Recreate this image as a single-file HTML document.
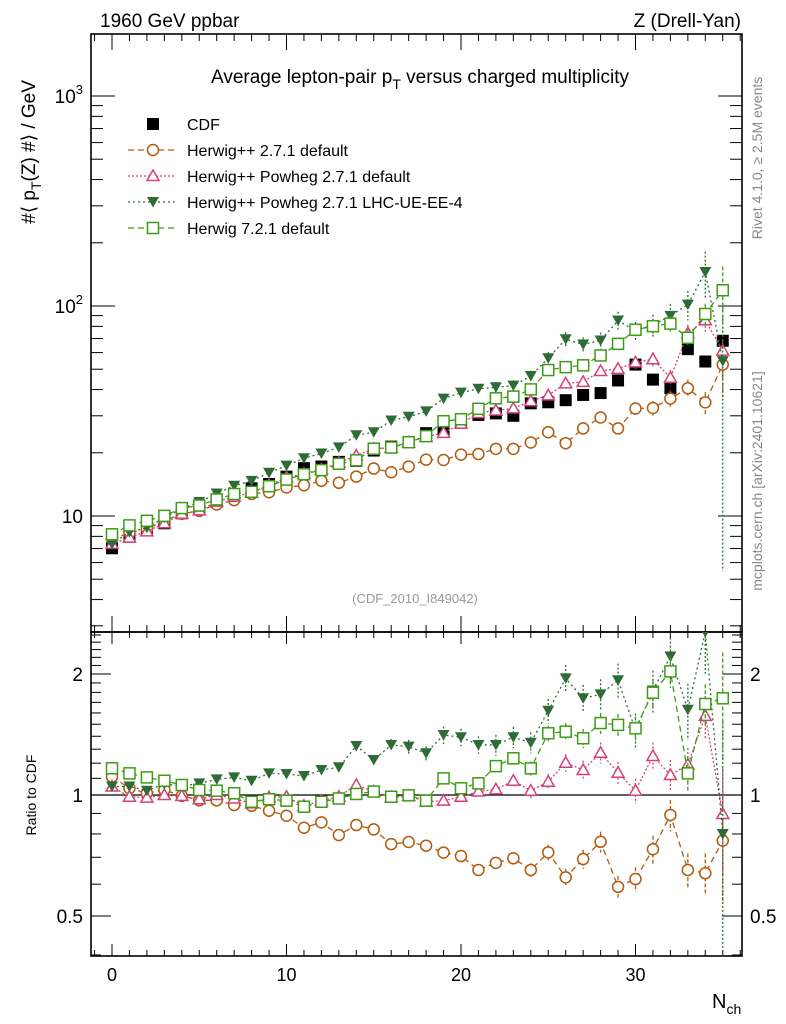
<!DOCTYPE html>
<html><head><meta charset="utf-8"><style>
html,body{margin:0;background:#fff;overflow:hidden;width:786px;height:1024px;}
svg{display:block;font-family:"Liberation Sans",sans-serif;}
</style></head><body>
<svg id="c" width="786" height="1024" viewBox="0 0 786 1024" xmlns="http://www.w3.org/2000/svg">
<rect width="786" height="1024" fill="#fff"/>
<text x="100" y="27" font-size="19">1960 GeV ppbar</text>
<text x="741" y="27" font-size="19" text-anchor="end">Z (Drell-Yan)</text>
<text x="420" y="83" font-size="19" text-anchor="middle">Average lepton-pair p<tspan font-size="14" dy="6">T</tspan><tspan dy="-6"> versus charged multiplicity</tspan></text>
<text x="415" y="603" font-size="13" fill="#999" text-anchor="middle">(CDF_2010_I849042)</text>
<text transform="translate(35,152) rotate(-90)" font-size="19" text-anchor="middle">#⟨ p<tspan font-size="14" dy="6">T</tspan><tspan dy="-6">(Z) #⟩ / GeV</tspan></text>
<text transform="translate(36,795) rotate(-90)" font-size="14" text-anchor="middle">Ratio to CDF</text>
<text transform="translate(762,158) rotate(-90)" font-size="14" fill="#888" text-anchor="middle">Rivet 4.1.0, ≥ 2.5M events</text>
<text transform="translate(762,481) rotate(-90)" font-size="14" fill="#888" text-anchor="middle">mcplots.cern.ch [arXiv:2401.10621]</text>
<text x="712" y="1008" font-size="20">N<tspan font-size="14" dy="6">ch</tspan></text>
<g id="plots"></g>
</svg>
<script>
const nch = [0,1,2,3,4,5,6,7,8,9,10,11,12,13,14,15,16,17,18,19,20,21,22,23,24,25,26,27,28,29,30,31,32,33,34,35];
const cdf = [7.02,7.97,8.58,9.23,10.3,10.9,11.7,12.6,13.55,14.2,15.4,16.9,17.2,18.1,18.3,20.5,21.4,22.5,24.8,25.7,27.8,30.3,30.8,30.0,34.4,34.8,35.6,37.7,38.5,44.2,52.6,44.6,40.6,62.3,54.4,68.3];
const ratioHwDef = [1.11,1.04,1.01,1.03,0.995,0.97,0.97,0.944,0.94,0.914,0.888,0.829,0.855,0.795,0.842,0.821,0.755,0.764,0.748,0.719,0.705,0.651,0.678,0.696,0.651,0.72,0.624,0.693,0.765,0.591,0.618,0.733,0.892,0.651,0.639,0.77];
const ratioPowDef = [1.05,0.99,0.985,1.0,0.995,0.976,1.0,0.98,0.953,0.987,0.99,0.94,0.968,0.99,1.06,1.02,0.987,0.995,0.962,0.968,0.99,1.02,1.033,1.085,1.025,1.079,1.203,1.154,1.274,1.136,1.025,1.25,1.121,1.19,1.573,0.897];
const ratioPowUE = [1.05,1.05,1.025,1.065,1.053,1.069,1.094,1.106,1.085,1.132,1.128,1.115,1.154,1.172,1.324,1.222,1.332,1.319,1.27,1.41,1.392,1.332,1.332,1.392,1.349,1.62,1.95,1.74,1.78,1.93,1.45,1.82,2.21,1.63,2.67,0.80];
const ratioHw7 = [1.165,1.132,1.106,1.085,1.059,1.029,1.025,1.01,0.962,0.976,0.968,0.935,0.962,0.98,1.006,1.02,0.99,0.998,0.968,1.1,1.039,1.069,1.18,1.234,1.165,1.424,1.437,1.384,1.51,1.494,1.465,1.797,2.03,1.132,1.684,1.74];
const relErr = [0.01,0.01,0.01,0.01,0.01,0.01,0.01,0.01,0.01,0.01,0.01,0.012,0.012,0.014,0.015,0.016,0.018,0.02,0.022,0.025,0.028,0.03,0.032,0.035,0.04,0.045,0.05,0.055,0.06,0.065,0.07,0.08,0.09,0.1,0.12,0.3];
const relErrUE = [0.01,0.01,0.01,0.01,0.01,0.01,0.01,0.012,0.014,0.016,0.018,0.02,0.022,0.025,0.03,0.03,0.035,0.04,0.04,0.05,0.05,0.05,0.06,0.06,0.06,0.07,0.08,0.08,0.09,0.1,0.1,0.12,0.14,0.16,0.25,0.9];
const mainTicks = ["10","10²","10³"];
const ratioTicks = ["0.5","1","2"];
const xTicks = ["0","10","20","30"];

const NS="http://www.w3.org/2000/svg";
const g=document.getElementById('plots');
const L=91,R=742,T=34,M=632,B=956;
const xs=n=>112+17.45*n;
const ym=v=>516-210*Math.log10(v/10);
const yr=r=>795-402*Math.log10(r);
const clampM=y=>Math.max(T,Math.min(M,y));
const clampR=y=>Math.max(M,Math.min(B,y));
function el(t,a,p){const e=document.createElementNS(NS,t);for(const k in a)e.setAttribute(k,a[k]);(p||g).appendChild(e);return e;}
function line(x1,y1,x2,y2,s,w,d,p){return el('line',{x1,y1,x2,y2,stroke:s||'#000','stroke-width':w||1,'stroke-dasharray':d||'none'},p);}

const f1=el('rect',{x:L,y:T,width:R-L,height:M-T,fill:'none',stroke:'#000','stroke-width':1.6});


const f2=el('rect',{x:L,y:M,width:R-L,height:B-M,fill:'none',stroke:'#000','stroke-width':1.6});



for(let n=-1;n<=36;n++){const x=xs(n);if(x<L||x>R)continue;const maj=n%10===0;const l=maj?16:7;
 line(x,T,x,T+l);line(x,M,x,M-l);line(x,M,x,M+(maj?12:6));line(x,B,x,B-(maj?12:6));}
xTicks.forEach((t,i)=>{const tx=el('text',{x:xs(i*10),y:981,'font-size':18,'text-anchor':'middle'});tx.textContent=t;
 
 });
for(let d=0;d<4;d++)for(let k=1;k<10;k++){const v=Math.pow(10,d)*k;const y=ym(v);if(y<T||y>M)continue;const l=k===1?24:12;line(L,y,L+l,y);line(R,y,R-l,y);}
mainTicks.forEach((t,i)=>{const y=ym(Math.pow(10,i+1));const tx=el('text',{x:83,y:y+7,'font-size':19,'text-anchor':'end'});
 if(i===0)tx.textContent='10';else{tx.textContent='10';const s=el('tspan',{'font-size':13,dy:-9},tx);s.textContent=String(i+1);}
 
 });
for(let k=4;k<=25;k++){const r=k/10;const y=yr(r);if(y<M||y>B)continue;const maj=(r===0.5||r===1||r===2);const l=maj?20:10;line(L,y,L+l,y);line(R,y,R-l,y);}
ratioTicks.forEach(t=>{const y=yr(parseFloat(t));
 const a=el('text',{x:83,y:y+7,'font-size':19,'text-anchor':'end'});a.textContent=t;
 
 
 const b=el('text',{x:750,y:y+7,'font-size':19});b.textContent=t;
 
 });
line(L,yr(1),R,yr(1),'#000',1.2);

function marker(type,x,y,c,p){
 if(type==='sq')return el('rect',{x:x-6,y:y-6,width:12,height:12,fill:'#000'},p);
 if(type==='circ')return el('circle',{cx:x,cy:y,r:5.5,fill:'#fff',stroke:c,'stroke-width':1.5},p);
 if(type==='tri')return el('path',{d:`M${x},${y-6}L${x+6},${y+4.5}L${x-6},${y+4.5}Z`,fill:'#fff',stroke:c,'stroke-width':1.5},p);
 if(type==='dtri')return el('path',{d:`M${x-6},${y-5}L${x+6},${y-5}L${x},${y+5.5}Z`,fill:c},p);
 if(type==='osq')return el('rect',{x:x-5.5,y:y-5.5,width:11,height:11,fill:'#fff',stroke:c,'stroke-width':1.5},p);
}
const series=[
 {name:'herwigpp-default',r:ratioHwDef,c:'#b35a0f',m:'circ',d:'6,4',e:relErr},
 {name:'powheg-default',r:ratioPowDef,c:'#d6407a',m:'tri',d:'2,2',e:relErr},
 {name:'powheg-lhc-ue',r:ratioPowUE,c:'#2f6b35',m:'dtri',d:'2,3',e:relErrUE},
 {name:'herwig7-default',r:ratioHw7,c:'#3c9c14',m:'osq',d:'6,4',e:relErr}];
const defs=el('defs',{});
const cp1=el('clipPath',{id:'cm'},defs);el('rect',{x:L,y:T,width:R-L,height:M-T},cp1);
const cp2=el('clipPath',{id:'cr'},defs);el('rect',{x:L,y:M,width:R-L,height:B-M},cp2);
const cg=el('g',{});


nch.forEach((n,i)=>{const m=marker('sq',xs(n),ym(cdf[i]),'#000',cg);
 
 });
series.forEach(s=>{
 const gm=el('g',{'clip-path':'url(#cm)'});
 
 
 const gr=el('g',{'clip-path':'url(#cr)'});
 
 
 const pm=nch.map((n,i)=>[xs(n),clampM(ym(cdf[i]*s.r[i]))]);
 const pr=nch.map((n,i)=>[xs(n),clampR(yr(s.r[i]))]);
 el('polyline',{points:pm.map(p=>p.join(',')).join(' '),fill:'none',stroke:s.c,'stroke-width':1.3,'stroke-dasharray':s.d},gm);
 el('polyline',{points:pr.map(p=>p.join(',')).join(' '),fill:'none',stroke:s.c,'stroke-width':1.3,'stroke-dasharray':s.d},gr);
 nch.forEach((n,i)=>{const e=s.e[i];if(e>0.02){
   const v=cdf[i]*s.r[i];
   line(xs(n),clampM(ym(v*(1+e))),xs(n),clampM(ym(Math.max(v*(1-e),0.1))),s.c,1.3,s.d==='6,4'?'4,2':'2,2',gm);
   line(xs(n),clampR(yr(s.r[i]*(1+e))),xs(n),clampR(yr(Math.max(s.r[i]*(1-e),0.01))),s.c,1.3,s.d==='6,4'?'4,2':'2,2',gr);}
  const a=marker(s.m,pm[i][0],pm[i][1],s.c,gm);
  
  
  const b=marker(s.m,pr[i][0],pr[i][1],s.c,gr);
  
  });
});
const leg=el('g',{});


const labels=['CDF','Herwig++ 2.7.1 default','Herwig++ Powheg 2.7.1 default','Herwig++ Powheg 2.7.1 LHC-UE-EE-4','Herwig 7.2.1 default'];
labels.forEach((t,i)=>{const y=124+26*i;const ge=el('g',{},leg);
 
 
 if(i===0)marker('sq',153,y,'#000',ge);else{const s=series[i-1];line(128,y,176,y,s.c,1.3,s.d,ge);marker(s.m,153,y,s.c,ge);}
 const tx=el('text',{x:187,y:y+6,'font-size':16},ge);tx.textContent=t;});
</script>
</body></html>
